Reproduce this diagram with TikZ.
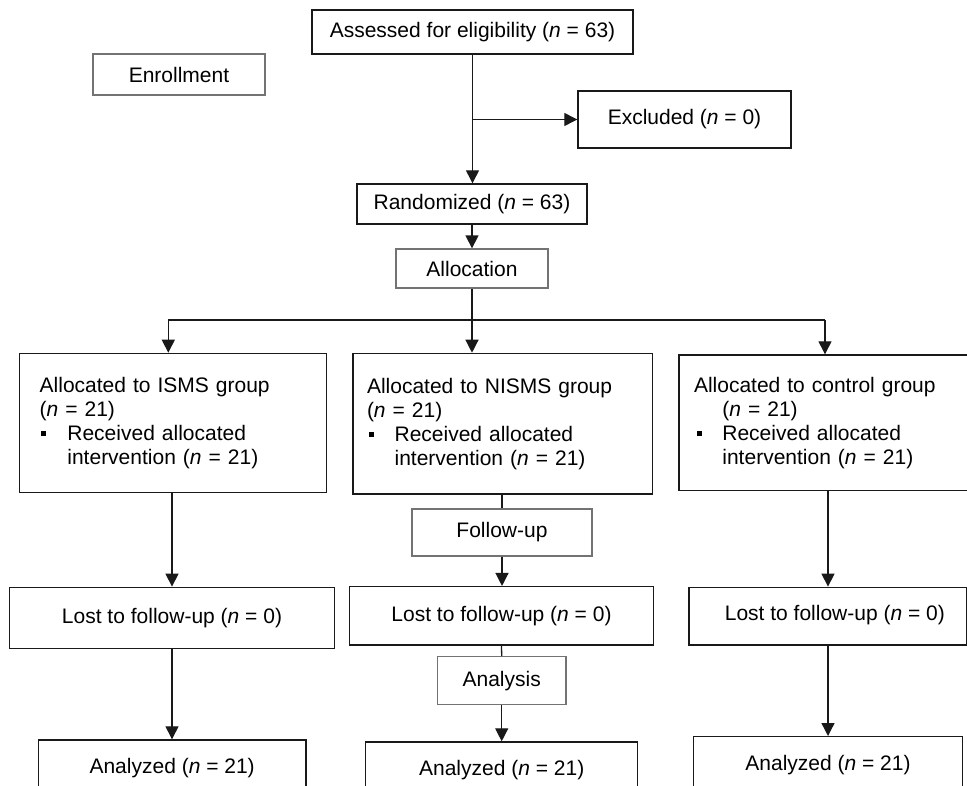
\documentclass[tikz,border=0pt]{standalone}
\usepackage{fontspec}
\setmainfont{Liberation Sans}
\usetikzlibrary{arrows.meta}
\newcommand\Nval[1]{(\textit{n} = #1)}
\newcommand\Bul[2]{\makebox[#1][l]{\hspace*{#2}\rule[4bp]{5bp}{5bp}}}
\begin{document}
\begin{tikzpicture}[x=1bp,y=-1bp,
  every node/.style={font=\fontsize{21bp}{24bp}\selectfont},
  box/.style={draw=black!90, line width=1.4bp, rectangle, inner sep=0pt, align=center},
  gbox/.style={draw=black!55, line width=1.3bp, rectangle, inner sep=0pt, align=center},
  grp/.style={draw=black!90, line width=1.4bp, rectangle, anchor=north west, inner ysep=0pt, align=left},
  ln/.style={line width=1.3bp, draw=black!90},
  arr/.style={ln, -{Triangle[width=13bp,length=13bp]}}]
\clip (0,0) rectangle (967,786);
\fill[white] (0,0) rectangle (967,786);
% enrollment
\node[box, minimum width=321bp, minimum height=44bp] (assess) at (472.5,32) {Assessed for eligibility \Nval{63}};
\node[gbox, minimum width=172bp, minimum height=41bp] (enroll) at (179,74.5) {Enrollment};
\node[box, minimum width=213bp, minimum height=57bp] (excl) at (684.5,119.5) {Excluded \Nval{0}};
\node[box, minimum width=230bp, minimum height=40bp] (rand) at (472,204) {Randomized \Nval{63}};
\node[gbox, minimum width=152bp, minimum height=39bp] (alloc) at (472,268.5) {Allocation};
% groups
\node[grp, inner xsep=20bp, text width=266.7bp, minimum height=139bp] (g1) at (19,352.7)
  {Allocated to ISMS group\\\Nval{21}\\\Bul{27.7bp}{1bp}Received allocated\\\hspace*{27.7bp}intervention \Nval{21}};
\node[grp, inner xsep=14bp, text width=271.4bp, minimum height=140.6bp] (g2) at (352.3,352.7)
  {Allocated to NISMS group\\\Nval{21}\\\Bul{27.6bp}{1.6bp}Received allocated\\\hspace*{27.6bp}intervention \Nval{21}};
\node[grp, inner xsep=15bp, text width=280bp, minimum height=135.7bp] (g3) at (678.3,354.3)
  {Allocated to control group\\\hspace*{28.4bp}\Nval{21}\\\Bul{28.4bp}{2.7bp}Received allocated\\\hspace*{28.4bp}intervention \Nval{21}};
% follow-up
\node[gbox, minimum width=180bp, minimum height=47bp] (fu) at (502,532.5) {Follow-up};
\node[box, minimum width=324.6bp, minimum height=61.4bp] (lost1) at (172,618) {Lost to follow-up \Nval{0}};
\node[box, minimum width=304.4bp, minimum height=58.3bp] (lost2) at (501.5,615.8) {Lost to follow-up \Nval{0}};
\node[box, minimum width=277.7bp, minimum height=57.7bp, text depth=7bp] (lost3) at (827.85,616.15) {\hspace*{14bp}Lost to follow-up \Nval{0}};
% analysis
\node[gbox, minimum width=128.7bp, minimum height=48bp] (ana) at (501.7,680.7) {Analysis};
\node[box, minimum width=267.7bp, minimum height=56bp] (an1) at (172.15,768) {Analyzed \Nval{21}};
\node[box, minimum width=272bp, minimum height=56bp] (an2) at (501.7,770) {Analyzed \Nval{21}};
\node[box, minimum width=269.4bp, minimum height=56bp] (an3) at (828,764.7) {Analyzed \Nval{21}};
% connectors
\draw[arr] (assess.south) -- (assess.south |- rand.north);
\coordinate (br) at (assess.south |- excl.west);
\draw[arr] (br) -- (excl.west);
\draw[arr] (rand.south) -- (alloc.north);
\draw[arr] (alloc.south) -- (alloc.south |- g2.north);
\coordinate (hl) at (168.3,320);
\coordinate (hr) at (825,320);
\draw[ln] (hl) -- (hr);
\draw[arr] (hl) -- (hl |- g1.north);
\draw[arr] (hr) -- (hr |- g3.north);
\draw[arr] (lost1.north |- g1.south) -- (lost1.north);
\draw[arr] (lost1.south) -- (lost1.south |- an1.north);
\draw[ln] (fu.north |- g2.south) -- (fu.north);
\draw[arr] (fu.south) -- (fu.south |- lost2.north);
\draw[ln] (lost2.south) -- (ana.north);
\draw[arr] (ana.south) -- (ana.south |- an2.north);
\coordinate (rx) at (828,0);
\draw[arr] (rx |- g3.south) -- (rx |- lost3.north);
\draw[arr] (rx |- lost3.south) -- (rx |- an3.north);
\end{tikzpicture}
\end{document}
